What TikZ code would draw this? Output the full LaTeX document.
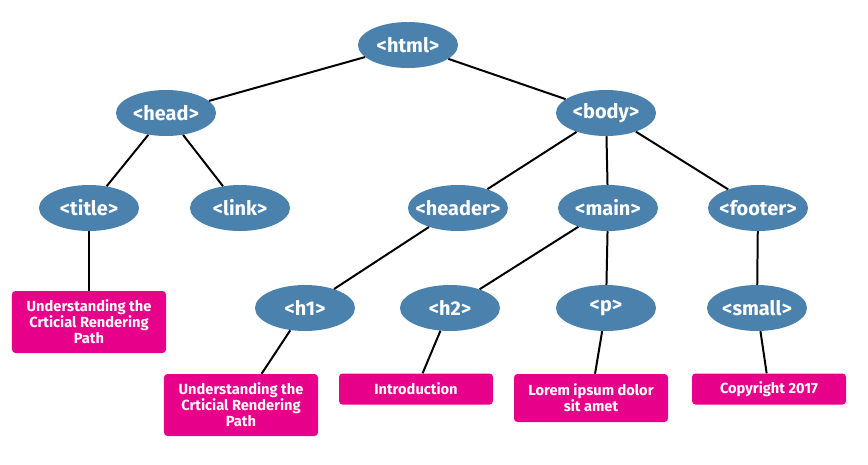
\documentclass[tikz,border=0pt]{standalone}
\usepackage{fontspec}
\setmainfont{Fira Sans}
\usepackage{xcolor}
\usepackage{tikz}
\usetikzlibrary{shapes.geometric}

\definecolor{tagblue}{HTML}{4A81AD}
\definecolor{txtpink}{HTML}{E6008A}
\newcommand{\tagname}[1]{\makebox[0pt]{#1}}

\begin{document}
\begin{tikzpicture}[
    x=0.03cm, y=-0.03cm,
    every node/.style={font=\bfseries, text=white},
    tag/.style={ellipse, fill=tagblue, minimum width=3cm, minimum height=1.38cm,
                font=\fontsize{17}{20}\selectfont\bfseries},
    txt/.style={rectangle, rounded corners=3pt, fill=txtpink,
                minimum width=4.62cm, align=center,
                font=\fontsize{12.5}{13.8}\selectfont\bfseries},
    edge/.style={draw=black, line width=1.7pt}
]
\useasboundingbox (0,0) rectangle (868,464);

% tags
\node[tag] (html)   at (408,45)  {\tagname{<html>}};
\node[tag] (head)   at (166,113) {\tagname{<head>}};
\node[tag] (body)   at (606,113) {\tagname{<body>}};
\node[tag] (title)  at (89,208)  {\tagname{<title>}};
\node[tag] (link)   at (240,208) {\tagname{<link>}};
\node[tag] (header) at (458,208) {\tagname{<header>}};
\node[tag] (main)   at (608,208) {\tagname{<main>}};
\node[tag] (footer) at (758,208) {\tagname{<footer>}};
\node[tag] (hone)   at (305,308) {\tagname{<h1>}};
\node[tag] (htwo)   at (450,308) {\tagname{<h2>}};
\node[tag] (para)   at (606,308) {\tagname{<p>}};
\node[tag] (small)  at (757,308) {\tagname{<small>}};

% text content
\node[txt, minimum height=1.86cm] (titletxt) at (89,322)
    {Understanding the\\Crticial Rendering\\Path};
\node[txt, minimum height=1.86cm] (honetxt)  at (241,405)
    {Understanding the\\Crticial Rendering\\Path};
\node[txt, minimum height=0.93cm] (htwotxt)  at (416,389) {Introduction};
\node[txt, minimum height=1.44cm] (paratxt)  at (591,398)
    {Lorem ipsum dolor\\sit amet};
\node[txt, minimum height=0.93cm] (smalltxt) at (769,389) {Copyright 2017};

% edges
\draw[edge] (html)   -- (head);
\draw[edge] (html)   -- (body);
\draw[edge] (head)   -- (title);
\draw[edge] (head)   -- (link);
\draw[edge] (body)   -- (header);
\draw[edge] (body)   -- (main);
\draw[edge] (body)   -- (footer);
\draw[edge] (header) -- (hone);
\draw[edge] (main)   -- (htwo);
\draw[edge] (main)   -- (para);
\draw[edge] (footer) -- (small);
\draw[edge] (title)  -- (titletxt);
\draw[edge] (hone)   -- (honetxt);
\draw[edge] (htwo)   -- (htwotxt);
\draw[edge] (para)   -- (paratxt);
\draw[edge] (small)  -- (smalltxt);
\end{tikzpicture}
\end{document}
